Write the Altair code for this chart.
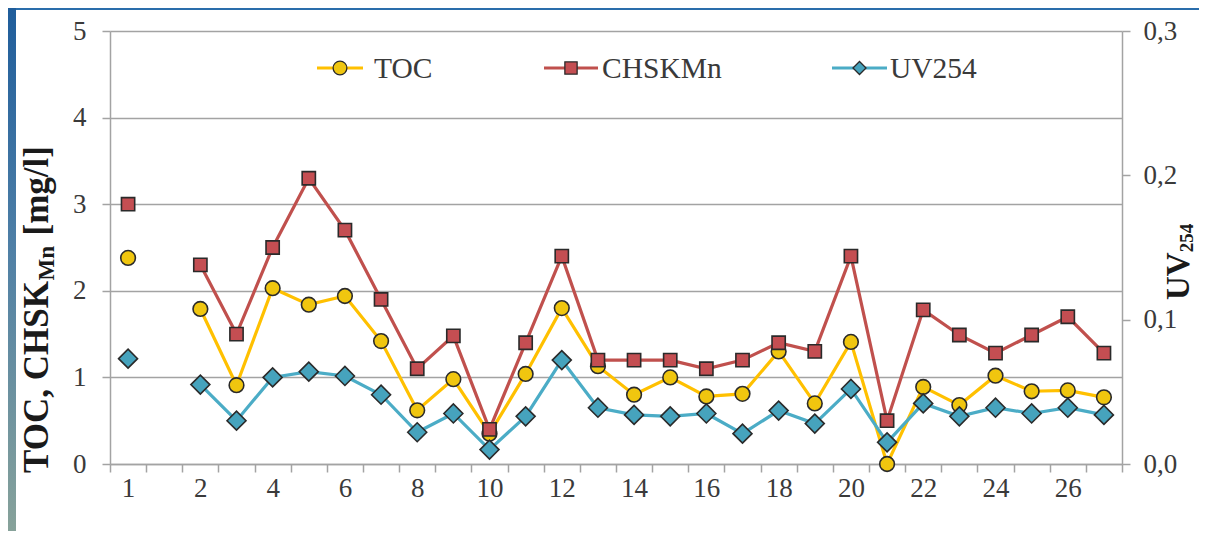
import altair as alt
import pandas as pd

# ---------------- data ----------------
categories = ["1", " "] + [str(i) for i in range(2, 28)]
tick_labels = ["1"] + [str(i) for i in range(2, 28, 2)]
segments = [0, 0] + [1] * 26

toc = [2.38, None, 1.79, 0.91, 2.03, 1.84, 1.94, 1.42, 0.62, 0.98, 0.35, 1.04, 1.80,
       1.13, 0.80, 1.00, 0.78, 0.81, 1.30, 0.70, 1.41, 0.00, 0.89, 0.68, 1.02, 0.84,
       0.85, 0.77]
chsk = [3.00, None, 2.30, 1.50, 2.50, 3.30, 2.70, 1.90, 1.10, 1.48, 0.40, 1.40, 2.40,
        1.20, 1.20, 1.20, 1.10, 1.20, 1.40, 1.30, 2.40, 0.50, 1.78, 1.49, 1.28, 1.49,
        1.70, 1.28]
uv254 = [0.073, None, 0.055, 0.030, 0.060, 0.064, 0.061, 0.048, 0.022, 0.035, 0.010,
         0.033, 0.072, 0.039, 0.034, 0.033, 0.035, 0.021, 0.037, 0.028, 0.052, 0.015,
         0.042, 0.033, 0.039, 0.035, 0.039, 0.034]
series_names = ["TOC", "CHSKMn", "UV254"]

rows = []
for name, vals in zip(series_names, [toc, chsk, uv254]):
    for c, s, v in zip(categories, segments, vals):
        if v is not None:
            rows.append({"cat": c, "seg": s, "series": name, "value": v})
df = pd.DataFrame(rows)
legend_df = pd.DataFrame({"name": series_names})
one = pd.DataFrame({"k": [0]})

# ---------------- style ----------------
FONT = "Liberation Serif"
GRAY = "#a3a3a3"
LBL = "#3a3a3a"
C_TOC_LINE, C_TOC_FILL = "#ffc000", "#f0c60f"
C_CH_LINE, C_CH_FILL = "#c0504d", "#c44e52"
C_UV_LINE, C_UV_FILL = "#4bacc6", "#46a3bd"
OUTLINE = "#2a2a2a"

label_expr = "indexof(" + str(tick_labels).replace('"', "'") + ", datum.value) >= 0 ? datum.value : ''"

X = alt.X(
    "cat:N",
    sort=categories,
    scale=alt.Scale(type="band", domain=categories, paddingInner=0, paddingOuter=0),
    bandPosition=0.5,
    axis=alt.Axis(
        title=None, tickBand="extent", labelExpr=label_expr, labelAngle=0,
        labelFont=FONT, labelFontSize=27, labelColor=LBL, labelPadding=3,
        tickColor=GRAY, tickSize=8, tickWidth=1.5, domainColor=GRAY, domainWidth=1.5,
        grid=False,
    ),
)

Y_left = alt.Y(
    "value:Q",
    scale=alt.Scale(domain=[0, 5], nice=False, zero=True),
    axis=alt.Axis(
        title=None, values=[0, 1, 2, 3, 4, 5], format="d", grid=True,
        gridColor=GRAY, gridWidth=1.5, labelFont=FONT, labelFontSize=27,
        labelColor=LBL, labelPadding=16, tickColor=GRAY, tickSize=8, tickWidth=1.5,
        domainColor=GRAY, domainWidth=1.5,
    ),
)

Y_right = alt.Y(
    "value:Q",
    scale=alt.Scale(domain=[0, 0.3], nice=False, zero=True),
    axis=alt.Axis(
        title=None, orient="right", values=[0, 0.1, 0.2, 0.3], format=".1f",
        labelExpr="replace(datum.label, '.', ',')", grid=False,
        labelFont=FONT, labelFontSize=27, labelColor=LBL, labelPadding=13,
        tickColor=GRAY, tickSize=8, tickWidth=1.5, domainColor=GRAY, domainWidth=1.5,
    ),
)

base = alt.Chart(df)

def series_layers(name, yenc, line_c, fill_c, shape, size):
    d = base.transform_filter(alt.datum.series == name)
    ln = d.mark_line(color=line_c, strokeWidth=3.2).encode(x=X, y=yenc, detail="seg:N")
    pt = d.mark_point(shape=shape, filled=True, fill=fill_c, stroke=OUTLINE,
                      strokeWidth=1.6, size=size, opacity=1).encode(x=X, y=yenc)
    return [ln, pt]

toc_l = series_layers("TOC", Y_left, C_TOC_LINE, C_TOC_FILL, "circle", 215)
ch_l = series_layers("CHSKMn", Y_left, C_CH_LINE, C_CH_FILL, "square", 175)
uv_l = series_layers("UV254", Y_right, C_UV_LINE, C_UV_FILL, "diamond", 360)

# ---------------- legend (inside plot, top) ----------------
def legend_entry(name, line_c, fill_c, shape, size, x0, x1, xt, yy=37):
    d = alt.Chart(legend_df).transform_filter(alt.datum.name == name)
    r = d.mark_rule(color=line_c, strokeWidth=3.2).encode(
        x=alt.value(x0), x2=alt.value(x1), y=alt.value(yy))
    p = d.mark_point(shape=shape, filled=True, fill=fill_c, stroke=OUTLINE,
                     strokeWidth=1.3, size=size, opacity=1).encode(
        x=alt.value((x0 + x1) / 2), y=alt.value(yy))
    t = d.mark_text(align="left", baseline="middle", font=FONT, fontSize=29.5,
                    color=LBL).encode(x=alt.value(xt), y=alt.value(yy + 1), text="name:N")
    return [r, p, t]

leg = (legend_entry("TOC", C_TOC_LINE, C_TOC_FILL, "circle", 190, 207, 253, 264)
       + legend_entry("CHSKMn", C_CH_LINE, C_CH_FILL, "square", 150, 434, 488, 492)
       + legend_entry("UV254", C_UV_LINE, C_UV_FILL, "diamond", 170, 722, 777, 780))

# ---------------- axis titles (with subscripts) ----------------
BW = {"T": .667, "O": .778, "C": .722, ",": .25, " ": .25, "H": .778, "S": .556,
      "K": .778, "M": .944, "n": .556, "[": .333, "m": .833, "g": .5, "/": .278,
      "l": .278, "]": .333, "U": .722, "V": .722, "2": .5, "5": .5, "4": .5}

def tw(s, f):
    return sum(BW[ch] for ch in s) * f

F, FS = 35, 23
def vtext(txt, x, y, size):
    return alt.Chart(one).mark_text(text=txt, angle=270, align="left", baseline="alphabetic",
                                    font=FONT, fontWeight="bold", fontSize=size,
                                    color="#1a1a1a").encode(x=alt.value(x), y=alt.value(y))

p1, p2, p3 = "TOC, CHSK", "Mn", "[mg/l]"
y0, xb = 442, -62
titles = [
    vtext(p1, xb, y0, F),
    vtext(p2, xb + 6, y0 - tw(p1, F), FS),
    vtext(p3, xb, y0 - tw(p1, F) - tw(p2, FS) - 0.3 * F, F),
    vtext("UV", 1079, 269, 33),
    vtext("254", 1083, 269 - tw("UV", 33), 19),
]

# ---------------- frame decoration ----------------
frame = [
    alt.Chart(one).mark_rect(color="#2a6dab").encode(
        x=alt.value(-102), x2=alt.value(1100), y=alt.value(-23), y2=alt.value(-21)),
    alt.Chart(one).mark_rect(
        color=alt.Gradient(gradient="linear", x1=0, y1=0, x2=0, y2=1,
                           stops=[alt.GradientStop(color="#1f5d9b", offset=0),
                                  alt.GradientStop(color="#4e7fa6", offset=0.45),
                                  alt.GradientStop(color="#87a29a", offset=1)])).encode(
        x=alt.value(-102), x2=alt.value(-94), y=alt.value(-23), y2=alt.value(500)),
]

left = alt.layer(*(toc_l + ch_l + leg + titles + frame))
right = alt.layer(*uv_l)

chart = (
    alt.layer(left, right)
    .resolve_scale(y="independent")
    .properties(width=1012, height=433,
                autosize=alt.AutoSizeParams(type="none"),
                padding={"left": 102, "top": 23, "right": 77, "bottom": 67},
                background="white")
    .configure_view(stroke=None)
)

chart.save("out.html", embed_options={"renderer": "svg", "actions": False})
